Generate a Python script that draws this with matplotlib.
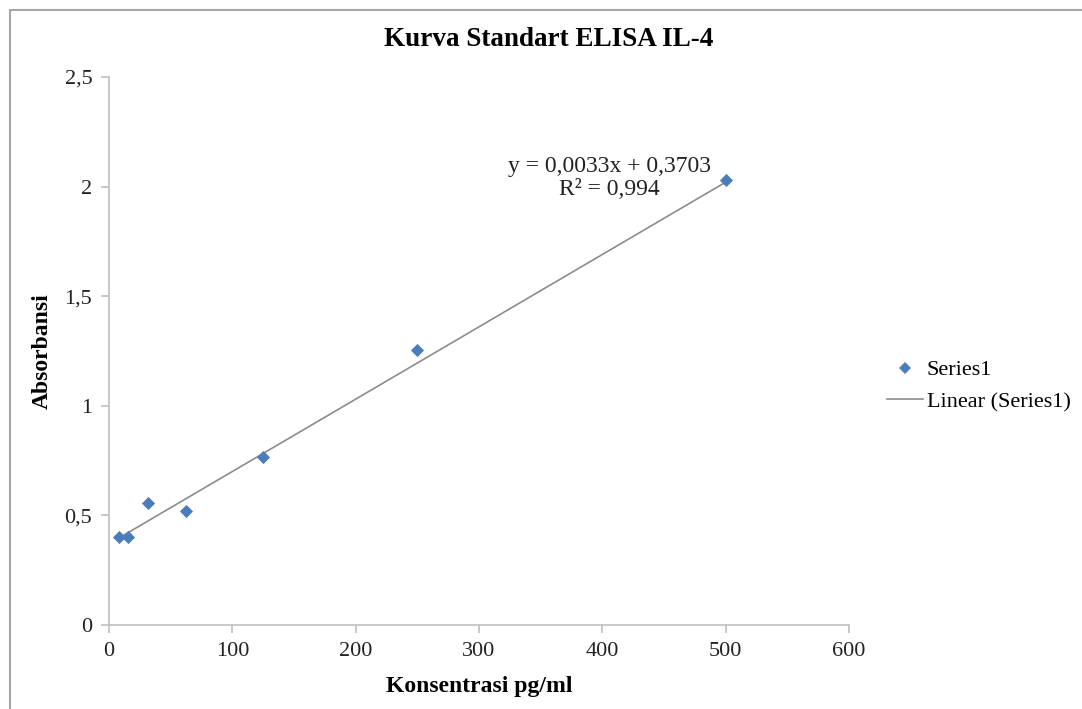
import numpy as np
import matplotlib.pyplot as plt
from matplotlib.patches import Rectangle
from matplotlib.lines import Line2D

# Standard curve data (concentration pg/ml vs absorbance)
konsentrasi = [7.8, 15.6, 31.25, 62.5, 125, 250, 500]
absorbansi = [0.402, 0.400, 0.555, 0.518, 0.766, 1.256, 2.030]

# Trendline coefficients as printed on the chart
slope = 0.0033
intercept = 0.3703
r_squared = 0.994

x_ticks = [0, 100, 200, 300, 400, 500, 600]
y_ticks = [0, 0.5, 1, 1.5, 2, 2.5]
y_tick_labels = ['0', '0,5', '1', '1,5', '2', '2,5']

plt.rcParams['font.family'] = ['Liberation Serif', 'DejaVu Serif']

fig = plt.figure(figsize=(10.82, 7.09), dpi=100)
ax = fig.add_axes([109 / 1082, 1 - 625 / 709, 740 / 1082, 548 / 709])

# chart border (cropped at right and bottom)
fig.patches.append(Rectangle((10 / 1082, -0.05), 1.1, 1 - 10 / 709 + 0.05,
                             transform=fig.transFigure, fill=False,
                             edgecolor='#a6a6a6', linewidth=1.5))

ax.scatter(konsentrasi, absorbansi, marker='D', s=45, color='#4a7ebb',
           zorder=3, linewidths=0)

xs = np.array([min(konsentrasi), max(konsentrasi)])
ax.plot(xs, slope * xs + intercept, color='#8c8c8c', linewidth=1.2, zorder=2)

ax.set_xlim(0, 600)
ax.set_ylim(0, 2.5)
ax.set_xticks(x_ticks)
ax.set_yticks(y_ticks)
ax.set_yticklabels(y_tick_labels)

for side in ['top', 'right']:
    ax.spines[side].set_visible(False)
for side in ['left', 'bottom']:
    ax.spines[side].set_color('#bfbfbf')
    ax.spines[side].set_linewidth(1.2)
ax.tick_params(direction='out', length=6, color='#bfbfbf', width=1.2,
               labelsize=16, labelcolor='#222222', pad=6)

ax.set_xlabel('Konsentrasi pg/ml', fontsize=17, fontweight='bold')
ax.set_ylabel('Absorbansi', fontsize=17, fontweight='bold')
ax.xaxis.set_label_coords(0.5, -0.112)
ax.yaxis.set_label_coords(-0.0905, 0.5)
ax.xaxis.label.set_va('center')
ax.yaxis.label.set_va('center')

fig.text(549 / 1082, 1 - 40 / 709, 'Kurva Standart ELISA IL-4', ha='center',
         va='center', fontsize=19.5, fontweight='bold')

ax.text(406, 2.04, 'y = 0,0033x + 0,3703\nR² = 0,994', ha='center',
        va='center', fontsize=17, linespacing=1.15, color='#222222')

handles = [
    Line2D([], [], marker='D', linestyle='none', color='#4a7ebb',
           markersize=6, markeredgewidth=0),
    Line2D([], [], color='#8c8c8c', linewidth=1.2),
]
fig.legend(handles, ['Series1', 'Linear (Series1)'], loc='center left',
           bbox_to_anchor=(887 / 1082, 1 - 386 / 709), frameon=False,
           fontsize=16, handlelength=1.6, handletextpad=0.2,
           labelspacing=0.5, borderpad=0, borderaxespad=0)

fig.savefig('out.png', dpi=100, facecolor='white')
